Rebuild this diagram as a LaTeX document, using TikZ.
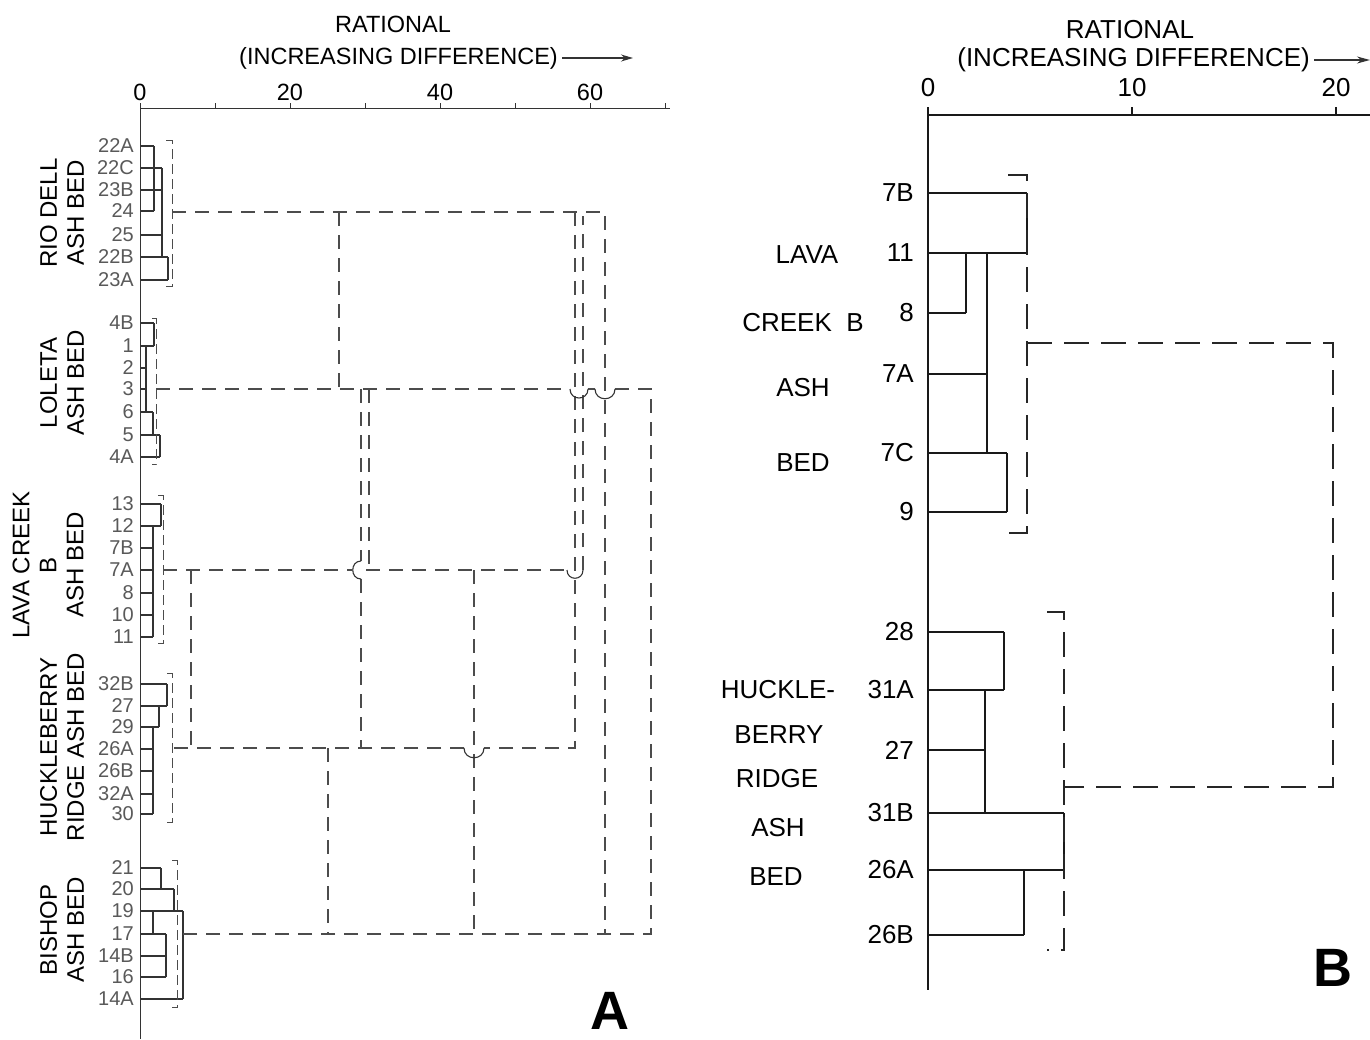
\documentclass[tikz,border=0pt]{standalone}
\usepackage{fontspec}
\setmainfont{Liberation Sans}
\usetikzlibrary{arrows.meta}

\begin{document}
\begin{tikzpicture}[x=1pt,y=-1pt,
  axisA/.style={black!80,line width=1pt},
  treeA/.style={black!80,line width=1.1pt},
  dashA/.style={black!70,line width=1.1pt,dash pattern=on 14pt off 9pt},
  bracA/.style={black!70,line width=1pt,dash pattern=on 10pt off 5pt},
  hopA/.style={black!80,line width=1.1pt},
  treeB/.style={black!90,line width=1.6pt},
  dashB/.style={black!85,line width=1.6pt,dash pattern=on 25pt off 12pt},
  leafA/.style={anchor=east,inner sep=0pt,text=black!65,font=\fontsize{20}{20}\selectfont},
  leafB/.style={anchor=east,inner sep=0pt,font=\fontsize{26}{26}\selectfont},
  groupA/.style={rotate=90,align=center,inner sep=0pt,font=\fontsize{24}{27}\selectfont},
  groupB/.style={inner sep=0pt,font=\fontsize{26}{26}\selectfont},
  titleA/.style={inner sep=0pt,font=\fontsize{23.5}{23.5}\selectfont},
  titleB/.style={inner sep=0pt,font=\fontsize{26}{26}\selectfont},
  tag/.style={inner sep=0pt,font=\fontsize{54}{54}\selectfont\bfseries}]

\useasboundingbox (0,0) rectangle (1370,1039);

% panel A: axes and heading
\draw[axisA] (140,103) -- (140,1039);
\draw[axisA] (140,108) -- (670,108);
\foreach \t in {1,...,7} \draw[axisA] (140+75*\t,108) -- (140+75*\t,103);
\foreach \v in {0,20,40,60} \node[titleA] (tA\v) at (140+7.5*\v,92) {\v};
\node[titleA] (ratA) at (393,24) {RATIONAL};
\node[titleA,anchor=east] (difA) at (558,58) {(INCREASING DIFFERENCE)};
\draw[axisA,line width=1.3pt,-{Stealth[length=12pt,width=7pt]}] (difA.east) ++(4,0) -- (633,58);

% panel A: samples
\foreach \lab/\y/\x in {22A/146/154,22C/168/162,23B/190/162,24/211/154,25/235/162,22B/257/168,23A/280/168,
  4B/323/154,1/346/154,2/368/146,3/389/146,6/412/153,5/435/160,4A/457/160,
  13/504/161,12/526/161,7B/548/153,7A/570/153,8/593/153,10/615/153,11/637/153,
  32B/684/167,27/706/167,29/727/159,26A/749/153,26B/771/153,32A/794/153,30/814/153,
  21/868/161,20/889/174,19/911/183,17/934/166,14B/956/166,16/977/166,14A/999/183}
  {\node[leafA] (a\lab) at (134,\y) {\lab};
   \draw[treeA] (140,\y) -- (\x,\y);}
\draw[treeA] (154,146) -- (154,211)  (162,168) -- (162,257)  (168,257) -- (168,280)
  (154,323) -- (154,346)  (146,346) -- (146,412)  (153,412) -- (153,435)  (160,435) -- (160,457)
  (161,504) -- (161,526)  (153,526) -- (153,637)
  (167,684) -- (167,706)  (159,706) -- (159,727)  (153,727) -- (153,814)
  (161,868) -- (161,889)  (174,889) -- (174,911)  (153,911) -- (153,934)  (166,934) -- (166,977)
  (183,911) -- (183,999);

% panel A: group brackets
\draw[bracA] (166,140) -| (172,286) -- (166,286);
\draw[bracA] (152,318) -| (156,464) -- (152,464);
\draw[bracA] (158,495) -| (163,643) -- (158,643);
\draw[bracA] (167,673) -| (172,822) -- (167,822);
\draw[bracA] (172,860) -| (177,1007) -- (172,1007);
\coordinate (rioA) at (172,212); \coordinate (lolA) at (156,389); \coordinate (lavA) at (163,570);
\coordinate (hucA) at (172,748); \coordinate (bisA) at (183,934);

% panel A: links between groups
\draw[dashA] (rioA) -- (605,212) -- (605,934);
\draw[dashA] (339,212) -- (339,389);
\draw[dashA] (575,212) -- (575,748) -- (484,748)  (464,748) -- (hucA);
\draw[dashA] (lolA) -- (570,389)  (588,389) -- (595,389)  (615,389) -- (651,389) -- (651,934) -- (bisA);
\draw[dashA] (369,389) -- (369,570);
\draw[dashA] (361,389) -- (361,561)  (361,579) -- (361,748);
\draw[dashA] (lavA) -- (352,570)  (366,570) -- (567,570);
\draw[dashA] (583,570) -- (583,216);
\draw[dashA] (191,570) -- (191,748);
\draw[dashA] (474,570) -- (474,934);
\draw[dashA] (328,748) -- (328,934);
\draw[hopA] (570,389) .. controls (570,401) and (588,401) .. (588,389)
  (595,389) .. controls (595,402) and (615,402) .. (615,389)
  (361,561) .. controls (350,561) and (350,579) .. (361,579)
  (567,570) .. controls (567,581) and (583,581) .. (583,570)
  (464,748) .. controls (464,761) and (484,761) .. (484,748);

\node[groupA] (gA1) at (62,213) {RIO DELL\\ASH BED};
\node[groupA] (gA2) at (62,383) {LOLETA\\ASH BED};
\node[groupA] (gA3) at (48,565) {LAVA CREEK\\B\\ASH BED};
\node[groupA] (gA4) at (62,747) {HUCKLEBERRY\\RIDGE ASH BED};
\node[groupA] (gA5) at (62,930) {BISHOP\\ASH BED};
\node[tag] (tagA) at (610,1011) {A};

% panel B: axes and heading
\draw[treeB] (928,107) -- (928,990);
\draw[treeB] (928,115) -- (1370,115);
\foreach \t in {1,2} \draw[treeB] (928+204*\t,115) -- (928+204*\t,107);
\foreach \v in {0,10,20} \node[titleB] (tB\v) at (928+20.4*\v,88) {\v};
\node[titleB] (ratB) at (1130,30) {RATIONAL};
\node[titleB,anchor=east] (difB) at (1310,60) {(INCREASING DIFFERENCE)};
\draw[axisA,line width=1.4pt,-{Stealth[length=13pt,width=7pt]}] (difB.east) ++(4,0) -- (1370,60);

% panel B: samples
\foreach \lab/\y/\x in {7B/193/1027,11/253/1027,8/313/966,7A/374/987,7C/453/1007,9/512/1007,
  28/632/1004,31A/690/1004,27/750/985,31B/813/1064,26A/870/1064,26B/935/1024}
  {\node[leafB] (b\lab) at (914,\y) {\lab};
   \draw[treeB] (928,\y) -- (\x,\y);}
\draw[treeB] (1027,193) -- (1027,253)  (966,253) -- (966,313)  (987,253) -- (987,453)  (1007,453) -- (1007,512)
  (1004,632) -- (1004,690)  (985,690) -- (985,813)  (1064,813) -- (1064,870)  (1024,870) -- (1024,935);

\draw[dashB] (1008,175) -| (1027,533) -- (1008,533);
\draw[dashB] (1047,612) -| (1064,950) -- (1047,950);
\coordinate (lavB) at (1027,343); \coordinate (hucB) at (1064,787);
\draw[dashB] (lavB) -- (1333,343) -- (1333,787) -- (hucB);

\node[groupB] (gB1) at (807,255) {LAVA};
\node[groupB] (gB2) at (803,323) {CREEK\ \ B};
\node[groupB] (gB3) at (803,388) {ASH};
\node[groupB] (gB4) at (803,463) {BED};
\node[groupB] (gB5) at (778,690) {HUCKLE-};
\node[groupB] (gB6) at (779,735) {BERRY};
\node[groupB] (gB7) at (777,779) {RIDGE};
\node[groupB] (gB8) at (778,828) {ASH};
\node[groupB] (gB9) at (776,877) {BED};
\node[tag] (tagB) at (1333,968) {B};
\end{tikzpicture}
\end{document}
